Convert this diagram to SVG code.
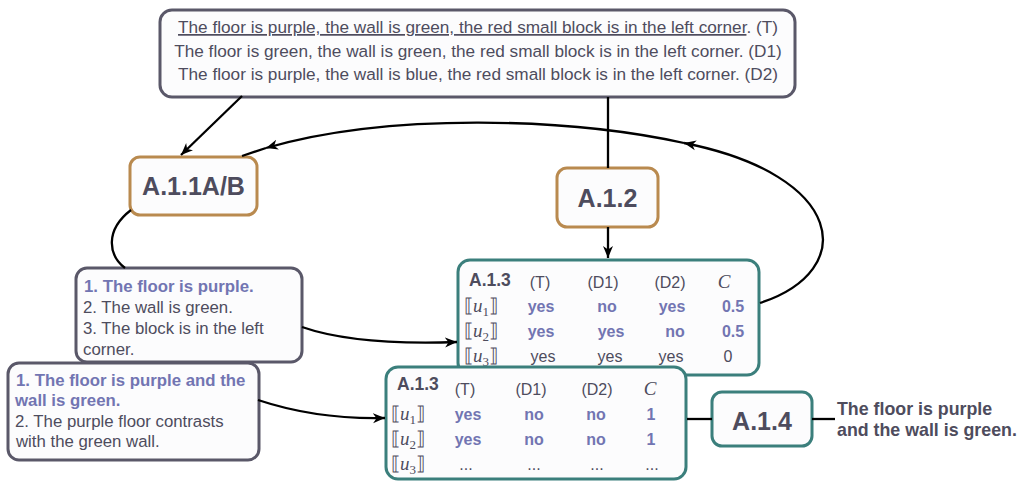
<svg xmlns="http://www.w3.org/2000/svg" width="1021" height="482" viewBox="0 0 1021 482">
<style>
.box{fill:#fcfcfd;stroke-width:3}
.gray{stroke:#5a5869}
.orange{stroke:#b98a4f}
.teal{stroke:#3b7f7c}
.t{font-family:"Liberation Sans",Arial,sans-serif;fill:#4e4c5d}
.big{font-size:25px;font-weight:bold;text-anchor:middle}
.sm{font-size:16.8px}
.hd{font-size:16px;text-anchor:middle}
.v{font-size:16px;font-weight:bold;text-anchor:middle;fill:#7275b2}
.g{font-size:16px;text-anchor:middle}
.b{fill:#7275b2;font-weight:bold}
.m{font-family:"Liberation Serif","DejaVu Serif",serif;font-size:19px;fill:#4e4c5d}
.c{font-family:"Liberation Serif",serif;font-style:italic;font-size:19px;fill:#4e4c5d;text-anchor:middle}
.conn{fill:none;stroke:#000;stroke-width:2.3}
</style>
<defs>
<marker id="ah" markerUnits="userSpaceOnUse" markerWidth="14" markerHeight="12" refX="12" refY="5" orient="auto" viewBox="0 0 14 10">
<path d="M0,0 L12,5 L0,10 L3.5,5 Z" fill="#000"/>
</marker>
</defs>

<g id="top-box">
<rect class="box gray" x="160" y="10" width="635" height="87" rx="12" stroke-width="2.5"/>
<text class="t" x="478" y="33" font-size="17.2" text-anchor="middle"><tspan text-decoration="underline">The floor is purple, the wall is green, the red small block is in the left corner</tspan>. (T)</text>
<text class="t" x="478" y="57" font-size="17.2" text-anchor="middle">The floor is green, the wall is green, the red small block is in the left corner. (D1)</text>
<text class="t" x="478" y="80" font-size="17.2" text-anchor="middle">The floor is purple, the wall is blue, the red small block is in the left corner. (D2)</text>
</g>

<g id="a111">
<rect class="box orange" x="130" y="157" width="127" height="58" rx="10"/>
<text class="t big" x="193.5" y="195">A.1.1A/B</text>
</g>

<g id="a12">
<rect class="box orange" x="557" y="168" width="101" height="59" rx="10"/>
<text class="t big" x="607.5" y="207">A.1.2</text>
</g>

<g id="list1">
<rect class="box gray" x="76" y="268" width="226" height="94" rx="11"/>
<text class="t sm" x="84" y="292"><tspan class="b">1. The floor is purple.</tspan></text>
<text class="t sm" x="83" y="313">2. The wall is green.</text>
<text class="t sm" x="83" y="334">3. The block is in the left</text>
<text class="t sm" x="83" y="355">corner.</text>
</g>

<g id="list2">
<rect class="box gray" x="8" y="363" width="251" height="97" rx="11"/>
<text class="t sm" x="16" y="386"><tspan class="b">1. The floor is purple and the</tspan></text>
<text class="t sm" x="15" y="406"><tspan class="b">wall is green.</tspan></text>
<text class="t sm" x="15" y="427">2. The purple floor contrasts</text>
<text class="t sm" x="16" y="447">with the green wall.</text>
</g>

<g id="table1">
<rect class="box teal" x="458" y="260" width="301" height="115" rx="12"/>
<text class="t" x="469" y="286" font-size="17.5" font-weight="bold">A.1.3</text>
<text class="t hd" x="540" y="288">(T)</text>
<text class="t hd" x="603" y="288">(D1)</text>
<text class="t hd" x="670" y="288">(D2)</text>
<text class="c" x="724" y="288">C</text>
<text class="m" x="464" y="312">⟦<tspan font-style="italic">u</tspan><tspan font-size="13" dy="4">1</tspan><tspan dy="-4">⟧</tspan></text>
<text class="m" x="464" y="337">⟦<tspan font-style="italic">u</tspan><tspan font-size="13" dy="4">2</tspan><tspan dy="-4">⟧</tspan></text>
<text class="m" x="464" y="362">⟦<tspan font-style="italic">u</tspan><tspan font-size="13" dy="4">3</tspan><tspan dy="-4">⟧</tspan></text>
<text class="t v" x="541" y="312">yes</text>
<text class="t v" x="607" y="312">no</text>
<text class="t v" x="672" y="312">yes</text>
<text class="t v" x="733" y="312">0.5</text>
<text class="t v" x="541" y="337">yes</text>
<text class="t v" x="611" y="337">yes</text>
<text class="t v" x="675" y="337">no</text>
<text class="t v" x="733" y="337">0.5</text>
<text class="t g" x="543" y="362">yes</text>
<text class="t g" x="610" y="362">yes</text>
<text class="t g" x="671" y="362">yes</text>
<text class="t g" x="728" y="362">0</text>
</g>

<g id="table2">
<rect class="box teal" x="386" y="367" width="300" height="112" rx="12"/>
<text class="t" x="397" y="390" font-size="17.5" font-weight="bold">A.1.3</text>
<text class="t hd" x="465" y="395">(T)</text>
<text class="t hd" x="531" y="395">(D1)</text>
<text class="t hd" x="597" y="395">(D2)</text>
<text class="c" x="650" y="395">C</text>
<text class="m" x="391" y="420">⟦<tspan font-style="italic">u</tspan><tspan font-size="13" dy="4">1</tspan><tspan dy="-4">⟧</tspan></text>
<text class="m" x="391" y="445">⟦<tspan font-style="italic">u</tspan><tspan font-size="13" dy="4">2</tspan><tspan dy="-4">⟧</tspan></text>
<text class="m" x="391" y="470">⟦<tspan font-style="italic">u</tspan><tspan font-size="13" dy="4">3</tspan><tspan dy="-4">⟧</tspan></text>
<text class="t v" x="468" y="420">yes</text>
<text class="t v" x="534" y="420">no</text>
<text class="t v" x="596" y="420">no</text>
<text class="t v" x="651" y="420">1</text>
<text class="t v" x="468" y="445">yes</text>
<text class="t v" x="534" y="445">no</text>
<text class="t v" x="596" y="445">no</text>
<text class="t v" x="651" y="445">1</text>
<text class="t g" x="466" y="470">...</text>
<text class="t g" x="534" y="470">...</text>
<text class="t g" x="597" y="470">...</text>
<text class="t g" x="652" y="470">...</text>
</g>

<g id="a14">
<rect class="box teal" x="712" y="392" width="100" height="54" rx="10"/>
<text class="t big" x="762" y="430">A.1.4</text>
</g>

<g id="result">
<text class="t" x="837" y="415" font-size="17.8" font-weight="bold">The floor is purple</text>
<text class="t" x="837" y="436" font-size="17.8" font-weight="bold">and the wall is green.</text>
</g>

<g id="connectors">
<path class="conn" d="M242,96 L181,155" marker-end="url(#ah)"/>
<path class="conn" d="M608,97 L608,168" stroke-width="1.6"/>
<path class="conn" d="M608,227 L608,258" stroke-width="1.6" marker-end="url(#ah)"/>
<path class="conn" d="M760,303 C860,270 845,175 684,143" marker-end="url(#ah)"/>
<path class="conn" d="M684,143 C570,118 390,112 266,148" marker-end="url(#ah)"/>
<path class="conn" d="M266,148 L242,156"/>
<path class="conn" d="M131,210 C105,230 108,255 125,268"/>
<path class="conn" d="M302,327 C345,342 400,344 457,342" marker-end="url(#ah)"/>
<path class="conn" d="M258,400 C300,414 340,419 385,418" marker-end="url(#ah)"/>
<path class="conn" d="M687,419 L712,419"/>
<path class="conn" d="M812,419 L835,419"/>
</g>
</svg>
